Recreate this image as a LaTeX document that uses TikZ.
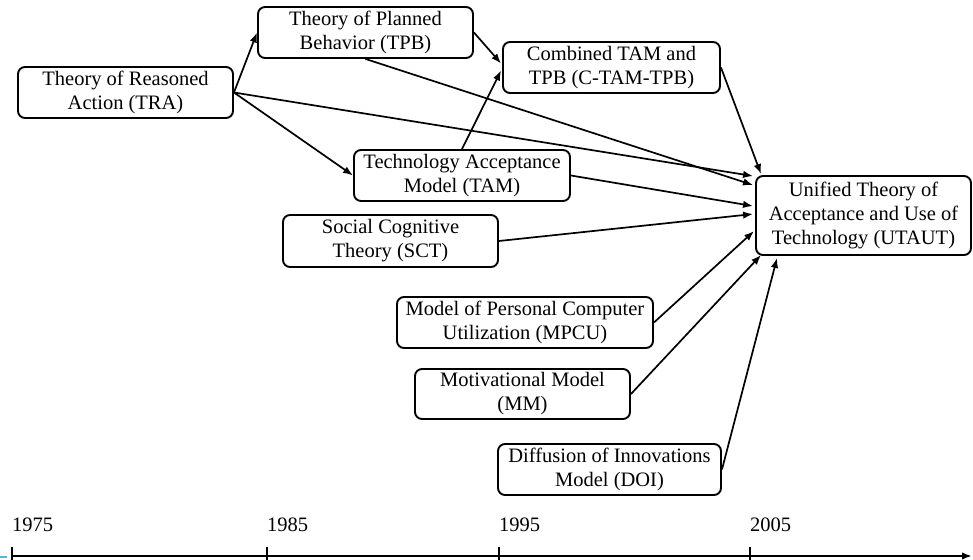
\documentclass[tikz,border=0pt]{standalone}
\usepackage{fontspec}
\setmainfont{Liberation Serif}
\usetikzlibrary{arrows,arrows.meta,positioning}
\tikzset
{
    theory/.style = {rectangle, rounded corners=7pt, draw=black, line width=1.9pt, align=center, minimum width=215pt, minimum height=51pt, inner sep=2pt, font=\fontsize{20.5}{24}\selectfont},
    link/.style   = {->, line width=1.7pt},
    year/.style   = {anchor=west, inner sep=0pt, font=\fontsize{20.5}{24}\selectfont}
}

\begin{document}
\begin{tikzpicture}[x=1pt, y=-1pt, >={Latex[length=10pt,width=7.5pt]}]
\useasboundingbox (0,0) rectangle (973,559);

\node (tra)		[theory] 							at (125.5,92.5)	{Theory of Reasoned\\Action (TRA)};
\node (tpb)		[theory] 							at (365.5,32.5)	{Theory of Planned\\Behavior (TPB)};
\node (ctam)	[theory, minimum width=217pt] 		at (611.5,67.5)	{Combined TAM and\\TPB (C-TAM-TPB)};
\node (tam)		[theory, minimum width=216pt] 		at (462,175.5)	{Technology Acceptance\\Model (TAM)};
\node (sct)		[theory, minimum height=52pt] 		at (390.5,241)	{Social Cognitive\\Theory (SCT)};
\node (mpcu)	[theory, minimum width=256pt] 		at (525,322.5)	{Model of Personal Computer\\Utilization (MPCU)};
\node (mm)		[theory, minimum height=50pt] 		at (522.5,394)	{Motivational Model\\(MM)};
\node (doi)		[theory, minimum width=223pt] 		at (609.5,469.5)	{Diffusion of Innovations\\Model (DOI)};
\node (utaut)	[theory, minimum height=79pt] 		at (863.5,215.5)	{Unified Theory of\\Acceptance and Use of\\Technology (UTAUT)};

\path
(tra.east) 	edge[link] 	(tpb.west)
(tra.east) 	edge[link] 	(tam.west)
(tpb.east) 	edge[link] 	([xshift=-1pt,yshift=4pt]ctam.west)
(tam.north) 	edge[link] 	([xshift=-1pt,yshift=-3pt]ctam.west)
(ctam.east) 	edge[link] 	([xshift=6pt,yshift=1pt]utaut.north west)
(tra.east) 	edge[link] 	([xshift=-2pt,yshift=-1pt]utaut.north west)
(tpb.south) 	edge[link] 	([xshift=-2pt,yshift=-10pt]utaut.north west)
(tam.east) 	edge[link] 	([xshift=-2pt,yshift=-31pt]utaut.north west)
(sct.east) 	edge[link] 	([xshift=-2pt,yshift=-39pt]utaut.north west)
(mpcu.east) 	edge[link] 	([xshift=-1pt,yshift=-56pt]utaut.north west)
(mm.east) 	edge[link] 	([xshift=6pt,yshift=1pt]utaut.south west)
(doi.east) 	edge[link] 	([xshift=22pt,yshift=-2pt]utaut.south west);

%% timeline
\coordinate (start) at (12,556);
\coordinate (stop) at (972,556);
\draw[->, line width=2.6pt] (start) -- (stop);
\foreach \x/\yr in {12/1975, 267/1985, 499/1995, 750/2005}
{
	\draw[line width=1.8pt] (\x,547) -- (\x,566);
	\node (y\yr) [year] at (\x,525) {\yr};
}
\draw[line width=1.5pt, color={rgb,255:red,80;green,180;blue,230}] (0,557) -- (7,557);
\end{tikzpicture}
\end{document}
